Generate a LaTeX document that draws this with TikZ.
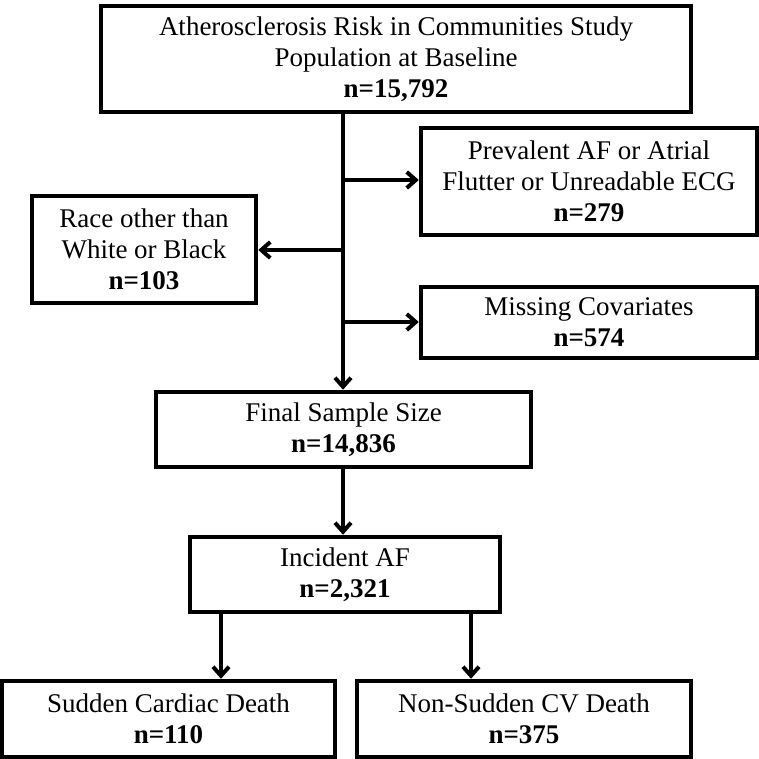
\documentclass[tikz,border=0pt]{standalone}
\usepackage{fontspec}
\setmainfont{Liberation Serif}
\usetikzlibrary{arrows.meta}
\tikzset{
  box/.style={draw=black, line width=4.5pt, inner sep=0pt, align=center,
    font=\fontsize{27}{31}\selectfont},
  arr/.style={draw=black, line width=4pt,
    -{Straight Barb[length=9pt,width=16pt]}},
  ln/.style={draw=black, line width=4pt}
}
\begin{document}
\begin{tikzpicture}[x=1pt,y=-1pt]
\useasboundingbox (0,0) rectangle (759,759);
\node[box, minimum width=590pt, minimum height=106pt] (top) at (396,59)
  {Atherosclerosis Risk in Communities Study\\Population at Baseline\\\textbf{n=15,792}};
\node[box, minimum width=336pt, minimum height=107pt] (prev) at (589,181.5)
  {Prevalent AF or Atrial\\Flutter or Unreadable ECG\\\textbf{n=279}};
\node[box, minimum width=224pt, minimum height=107pt] (race) at (144,249.5)
  {Race other than\\White or Black\\\textbf{n=103}};
\node[box, minimum width=336pt, minimum height=71pt] (miss) at (589,322.5)
  {Missing Covariates\\\textbf{n=574}};
\node[box, minimum width=375pt, minimum height=75pt] (final) at (343.5,429.5)
  {Final Sample Size\\\textbf{n=14,836}};
\node[box, minimum width=310pt, minimum height=75pt] (inc) at (345,574.5)
  {Incident AF\\\textbf{n=2,321}};
\node[box, minimum width=333pt, minimum height=76pt] (scd) at (168.5,719)
  {Sudden Cardiac Death\\\textbf{n=110}};
\node[box, minimum width=334pt, minimum height=76pt] (nscd) at (524,719)
  {Non-Sudden CV Death\\\textbf{n=375}};
% trunk
\coordinate (t0) at (343,112);
\coordinate (b1) at (343,180);
\coordinate (b2) at (343,250);
\coordinate (b3) at (343,322);
\draw[arr] (t0) -- (t0 |- final.north);
\draw[arr] (b1) -- (b1 -| prev.west);
\draw[arr] (b2) -- (b2 -| race.east);
\draw[arr] (b3) -- (b3 -| miss.west);
\draw[arr] (final.south -| t0) -- (inc.north -| t0);
\coordinate (l1) at (221,612);
\coordinate (r1) at (471,612);
\draw[arr] (l1) -- (l1 |- scd.north);
\draw[arr] (r1) -- (r1 |- nscd.north);
\end{tikzpicture}
\end{document}
